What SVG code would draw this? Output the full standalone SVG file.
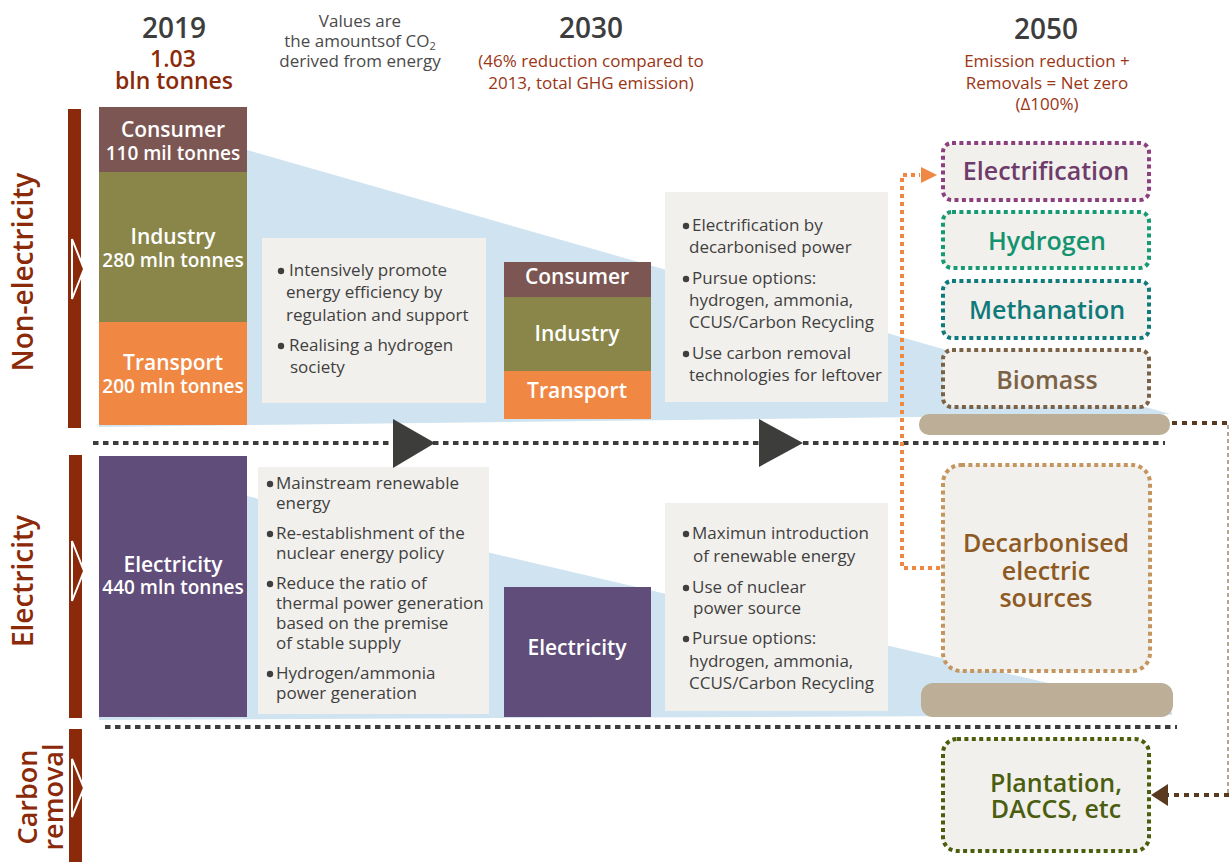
<svg xmlns="http://www.w3.org/2000/svg" width="1229" height="862" viewBox="0 0 1229 862">
<defs>
<style>
text{font-family:"Open Sans","Liberation Sans",Arial,sans-serif}
.hdr{font-size:28px;font-weight:600;fill:#3d3d3d;text-anchor:middle}
.sub{font-size:17px;fill:#9a3515;text-anchor:middle}
.note{font-size:17px;fill:#4a4a4a;text-anchor:middle}
.side{font-size:28px;font-weight:600;fill:#8b2a0a;text-anchor:middle}
.bar{fill:#8b2a0a}
.tri{fill:#8b2a0a;stroke:#fff;stroke-width:2;stroke-linejoin:miter}
.wl{font-size:21px;font-weight:600;fill:#fff;text-anchor:middle}
.wm{font-size:19px;font-weight:600;fill:#fff;text-anchor:middle}
.tb{fill:#f2f0ec}
.bt{font-size:17px;fill:#3f3f3f}
.dot{fill:#3f3f3f}
.b50{fill:#f2f0ec;stroke-width:4;stroke-dasharray:4 3.4}
.l50{font-size:25px;font-weight:600;text-anchor:middle}
.tan{fill:#bcae97}
.sep{fill:none;stroke:#3d3d3b;stroke-width:4;stroke-dasharray:5.5 4.5}
.wedge{fill:#cfe4f0}
</style>
</defs>
<rect width="1229" height="862" fill="#fff"/>

<!-- wedges -->
<polygon class="wedge" points="247,150 1170,414 99,427 99,150"/>
<polygon class="wedge" points="247,496 1172,712 1172,715 99,720 99,496"/>

<!-- headers -->
<g id="header-2019">
<text class="hdr" x="174" y="38">2019</text>
<text class="sub" x="173" y="67" style="font-size:23px;font-weight:600;fill:#8b2a0a">1.03</text>
<text class="sub" x="174" y="89" style="font-size:23px;font-weight:600;fill:#8b2a0a">bln tonnes</text>
</g>
<g id="header-note">
<text class="note" x="360" y="27">Values are</text>
<text class="note" x="360" y="47">the amountsof CO<tspan font-size="11" dy="3">2</tspan></text>
<text class="note" x="360" y="67">derived from energy</text>
</g>
<g id="header-2030">
<text class="hdr" x="591" y="38">2030</text>
<text class="sub" x="591" y="67">(46% reduction compared to</text>
<text class="sub" x="591" y="89">2013, total GHG emission)</text>
</g>
<g id="header-2050">
<text class="hdr" x="1046" y="39">2050</text>
<text class="sub" x="1047" y="67">Emission reduction +</text>
<text class="sub" x="1047" y="89">Removals = Net zero</text>
<text class="sub" x="1047" y="110">(Δ100%)</text>
</g>

<!-- side labels -->
<g id="side-non-electricity">
<rect class="bar" x="68" y="109" width="13" height="319"/>
<polygon class="tri" points="72,239 84,269 72,299"/>
<text class="side" transform="translate(33,272) rotate(-90)">Non-electricity</text>
</g>
<g id="side-electricity">
<rect class="bar" x="69" y="455" width="13" height="263"/>
<polygon class="tri" points="72,541 84,571 72,601"/>
<text class="side" transform="translate(33,581) rotate(-90)">Electricity</text>
</g>
<g id="side-carbon-removal">
<rect class="bar" x="69" y="729" width="13" height="133"/>
<polygon class="tri" points="72,759 84,788 72,817"/>
<text class="side" style="font-size:27px" transform="translate(37,797) rotate(-90)">Carbon</text>
<text class="side" style="font-size:27px" transform="translate(63,797) rotate(-90)">removal</text>
</g>

<!-- 2019 bars -->
<g id="n2019-consumer">
<rect x="99" y="107" width="148" height="65" fill="#7c5652"/>
<text class="wl" x="173" y="137">Consumer</text>
<text class="wm" x="173" y="160">110 mil tonnes</text>
</g>
<g id="n2019-industry">
<rect x="99" y="172" width="148" height="150" fill="#8a864a"/>
<text class="wl" x="173" y="244">Industry</text>
<text class="wm" x="173" y="267">280 mln tonnes</text>
</g>
<g id="n2019-transport">
<rect x="99" y="322" width="148" height="103" fill="#f08844"/>
<text class="wl" x="173" y="370">Transport</text>
<text class="wm" x="173" y="393">200 mln tonnes</text>
</g>
<g id="n2019-electricity">
<rect x="99" y="456" width="148" height="261" fill="#614d79"/>
<text class="wl" x="173" y="572">Electricity</text>
<text class="wm" x="173" y="594">440 mln tonnes</text>
</g>

<!-- 2030 bars -->
<g id="n2030-consumer">
<rect x="504" y="262" width="147" height="35" fill="#7c5652"/>
<text class="wl" x="577" y="284">Consumer</text>
</g>
<g id="n2030-industry">
<rect x="504" y="297" width="147" height="74" fill="#8a864a"/>
<text class="wl" x="577" y="341">Industry</text>
</g>
<g id="n2030-transport">
<rect x="504" y="371" width="147" height="48" fill="#f08844"/>
<text class="wl" x="577" y="398">Transport</text>
</g>
<g id="n2030-electricity">
<rect x="504" y="587" width="147" height="130" fill="#614d79"/>
<text class="wl" x="577" y="655">Electricity</text>
</g>

<!-- policy text boxes -->
<g id="box-nonelec-2030">
<rect class="tb" x="262" y="238" width="224" height="165"/>
<circle class="dot" cx="281" cy="271" r="3.2"/>
<text class="bt" x="289" y="276">Intensively promote</text>
<text class="bt" x="286" y="298">energy efficiency by</text>
<text class="bt" x="286" y="321">regulation and support</text>
<circle class="dot" cx="281" cy="346" r="3.2"/>
<text class="bt" x="289" y="351">Realising a hydrogen</text>
<text class="bt" x="290" y="373">society</text>
</g>
<g id="box-nonelec-2050">
<rect class="tb" x="665" y="192" width="223" height="210"/>
<circle class="dot" cx="686" cy="226" r="3.2"/>
<text class="bt" x="692" y="231">Electrification by</text>
<text class="bt" x="689" y="253">decarbonised power</text>
<circle class="dot" cx="686" cy="279" r="3.2"/>
<text class="bt" x="692" y="284">Pursue options:</text>
<text class="bt" x="689" y="306">hydrogen, ammonia,</text>
<text class="bt" x="689" y="328">CCUS/Carbon Recycling</text>
<circle class="dot" cx="686" cy="354" r="3.2"/>
<text class="bt" x="692" y="359">Use carbon removal</text>
<text class="bt" x="689" y="381">technologies for leftover</text>
</g>
<g id="box-elec-2030">
<rect class="tb" x="258" y="467" width="231" height="247"/>
<circle class="dot" cx="270" cy="484" r="3.2"/>
<text class="bt" x="276" y="489">Mainstream renewable</text>
<text class="bt" x="276" y="509">energy</text>
<circle class="dot" cx="270" cy="534" r="3.2"/>
<text class="bt" x="276" y="539">Re-establishment of the</text>
<text class="bt" x="276" y="559">nuclear energy policy</text>
<circle class="dot" cx="270" cy="584" r="3.2"/>
<text class="bt" x="276" y="589">Reduce the ratio of</text>
<text class="bt" x="276" y="609">thermal power generation</text>
<text class="bt" x="276" y="629">based on the premise</text>
<text class="bt" x="276" y="649">of stable supply</text>
<circle class="dot" cx="270" cy="674" r="3.2"/>
<text class="bt" x="276" y="679">Hydrogen/ammonia</text>
<text class="bt" x="276" y="699">power generation</text>
</g>
<g id="box-elec-2050">
<rect class="tb" x="665" y="503" width="223" height="208"/>
<circle class="dot" cx="686" cy="534" r="3.2"/>
<text class="bt" x="692" y="539">Maximun introduction</text>
<text class="bt" x="693" y="562">of renewable energy</text>
<circle class="dot" cx="686" cy="588" r="3.2"/>
<text class="bt" x="692" y="593">Use of nuclear</text>
<text class="bt" x="693" y="614">power source</text>
<circle class="dot" cx="686" cy="639" r="3.2"/>
<text class="bt" x="692" y="644">Pursue options:</text>
<text class="bt" x="689" y="667">hydrogen, ammonia,</text>
<text class="bt" x="689" y="689">CCUS/Carbon Recycling</text>
</g>

<!-- 2050 boxes -->
<g id="n2050-electrification">
<rect class="b50" x="943" y="143" width="206" height="57" rx="9" stroke="#8b3f7e"/>
<text class="l50" x="1046" y="180" fill="#6e3b6b">Electrification</text>
</g>
<g id="n2050-hydrogen">
<rect class="b50" x="943" y="212" width="206" height="56" rx="9" stroke="#159a74"/>
<text class="l50" x="1047" y="250" fill="#13946f">Hydrogen</text>
</g>
<g id="n2050-methanation">
<rect class="b50" x="943" y="281" width="206" height="57" rx="9" stroke="#0e7a7a"/>
<text class="l50" x="1047" y="319" fill="#0e7a7a">Methanation</text>
</g>
<g id="n2050-biomass">
<rect class="b50" x="943" y="350" width="206" height="57" rx="9" stroke="#7b6247"/>
<text class="l50" x="1047" y="389" fill="#7b6247">Biomass</text>
</g>
<g id="n2050-tanbar-top">
<rect class="tan" x="919" y="414" width="251" height="21" rx="10"/>
</g>
<g id="n2050-decarbonised">
<rect class="b50" x="943" y="465" width="207" height="206" rx="18" stroke="#c4955e"/>
<text class="l50" x="1046" y="552" fill="#8d5a24">Decarbonised</text>
<text class="l50" x="1046" y="580" fill="#8d5a24">electric</text>
<text class="l50" x="1046" y="607" fill="#8d5a24">sources</text>
</g>
<g id="n2050-tanbar-bottom">
<rect class="tan" x="921" y="683" width="252" height="34" rx="12"/>
</g>
<g id="n2050-plantation">
<rect class="b50" x="943" y="739" width="206" height="112" rx="14" stroke="#4b5e0d"/>
<text class="l50" x="1056" y="792" fill="#4b5e10">Plantation,</text>
<text class="l50" x="1056" y="818" fill="#4b5e10">DACCS, etc</text>
</g>

<!-- connectors -->
<g id="connectors">
<line class="sep" x1="93" y1="443" x2="1165" y2="443"/>
<line class="sep" x1="105" y1="727" x2="1177" y2="727"/>
<polygon points="393,419 435,443 393,468" fill="#3d3d3b"/>
<polygon points="759,419 803,443 759,467" fill="#3d3d3b"/>
<polyline points="940,568 902,568 902,175 920,175" fill="none" stroke="#f08844" stroke-width="4" stroke-dasharray="4 4"/>
<polygon points="921,167 937,175 921,183" fill="#f08844"/>
<polyline points="1172,423 1229,423" fill="none" stroke="#5a3a1f" stroke-width="4" stroke-dasharray="5 5"/>
<line x1="1228" y1="425" x2="1228" y2="795" stroke="#a08870" stroke-width="1.5" stroke-dasharray="4 3"/>
<line x1="1229" y1="795" x2="1168" y2="795" stroke="#5a3a1f" stroke-width="4" stroke-dasharray="5 5"/>
<polygon points="1168,784 1151,795 1168,806" fill="#5a3a1f"/>
</g>
</svg>
